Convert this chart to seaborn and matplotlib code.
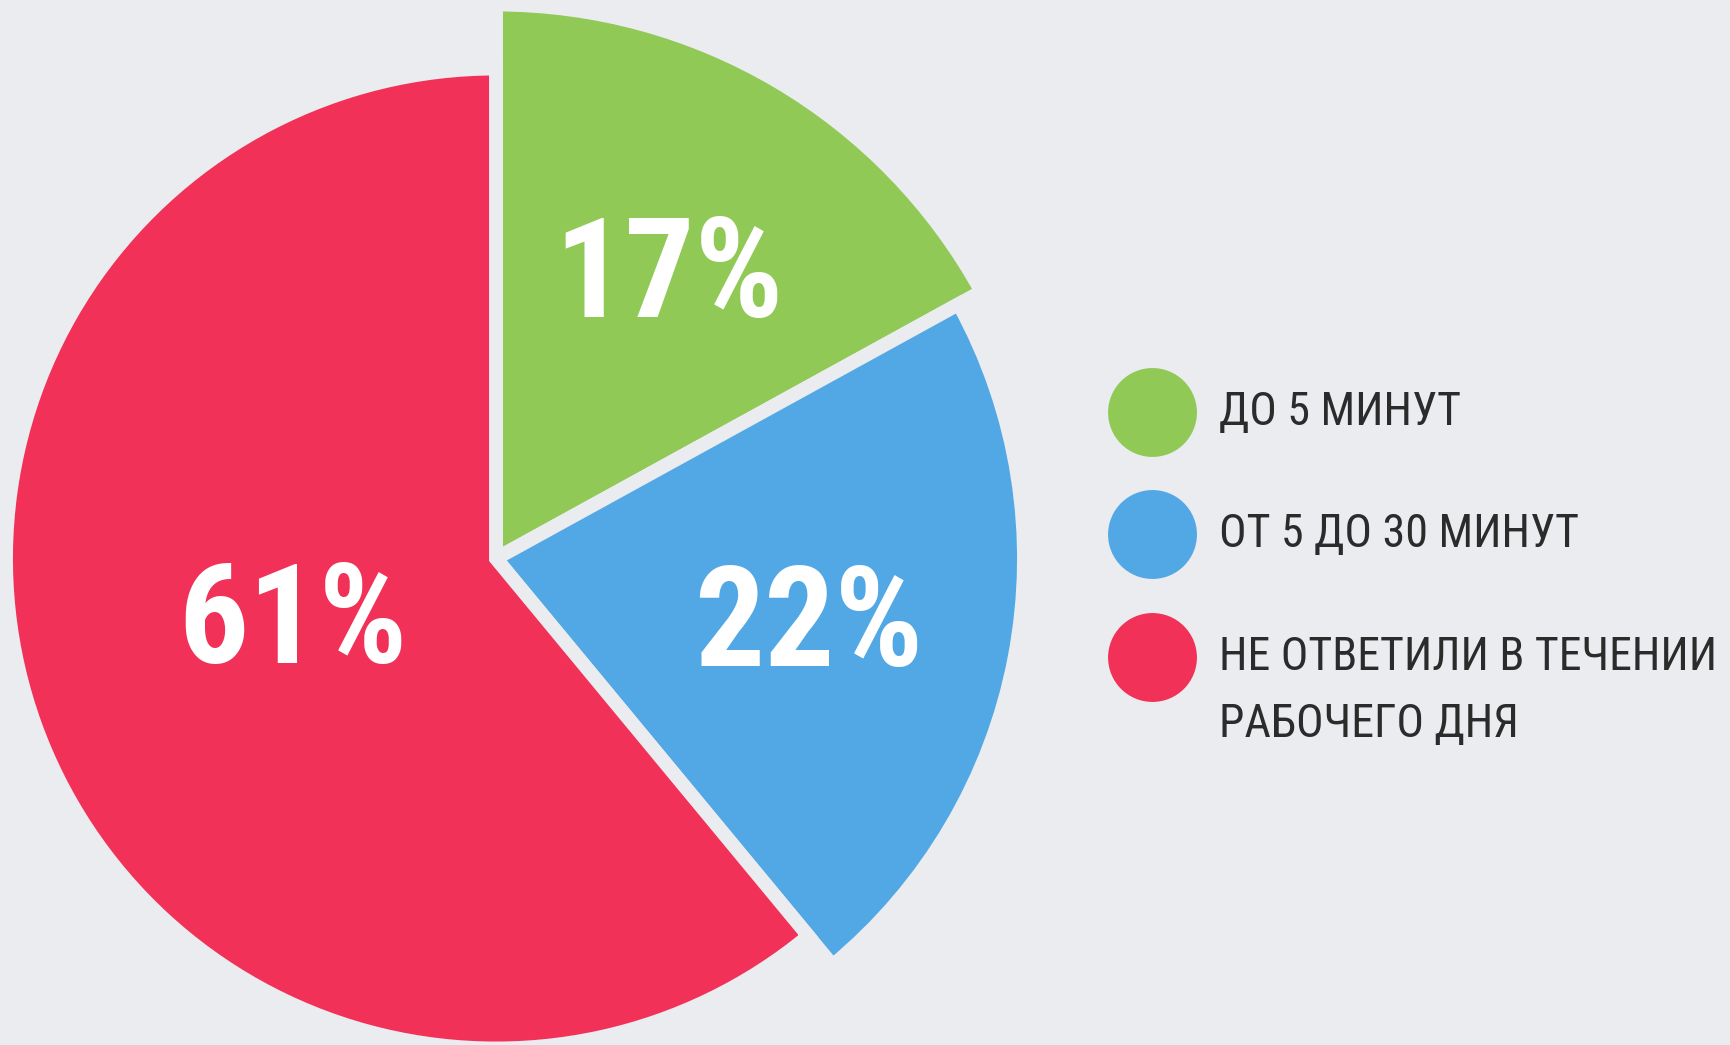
import numpy as np
import matplotlib
matplotlib.use("Agg")
import matplotlib.pyplot as plt
import seaborn as sns

# data
categories = ["ДО 5 МИНУТ", "ОТ 5 ДО 30 МИНУТ", "НЕ ОТВЕТИЛИ В ТЕЧЕНИИ\nРАБОЧЕГО ДНЯ"]
shares = [17, 22, 61]
pct_labels = [f"{s}%" for s in shares]
colors = ["#91C957", "#52A8E4", "#F13157"]

sns.set_theme(style="white")
plt.rcParams["font.family"] = ["Roboto Condensed", "Liberation Sans Narrow", "DejaVu Sans"]
plt.rcParams["font.stretch"] = "condensed"

bg = "#EBECF0"
W, H = 1731, 1045
fig = plt.figure(figsize=(W / 100, H / 100), dpi=100, facecolor=bg)
ax = fig.add_axes([0, 0, 1, 1])
ax.set_facecolor(bg)

# pie in pixel units, each slice with its own radius; gaps come from the edge
center = (496, H - 558.5)
radii = [554, 528, 490]
wedges, _ = ax.pie(shares, colors=colors, startangle=90, counterclock=False,
                   radius=490, center=center,
                   wedgeprops=dict(edgecolor=bg, linewidth=10))
for w, r in zip(wedges, radii):
    w.set_radius(r)

# percentage labels near each slice's bisector
label_dist = [329, 320, 214]
label_turn = [-1.1, -1.6, -1.8]
for w, txt, d, t in zip(wedges, pct_labels, label_dist, label_turn):
    mid = np.deg2rad((w.theta1 + w.theta2) / 2 + t)
    ax.text(center[0] + d * np.cos(mid), center[1] + d * np.sin(mid), txt,
            color="white", fontsize=100, fontweight="bold",
            ha="center", va="center")

# legend: dots + labels
leg_y = [H - 412, H - 534, H - 657]
for c, lab, y in zip(colors, categories, leg_y):
    ax.scatter([1152], [y], s=(64) ** 2, color=c, linewidths=0)
    ax.text(1219, y + 22, lab, fontsize=33, color="#2B2B2B",
            ha="left", va="top", linespacing=1.65)

ax.set_xlim(0, W)
ax.set_ylim(0, H)
ax.set_aspect("equal")
ax.axis("off")

fig.savefig("out.png", dpi=100, facecolor=bg)
